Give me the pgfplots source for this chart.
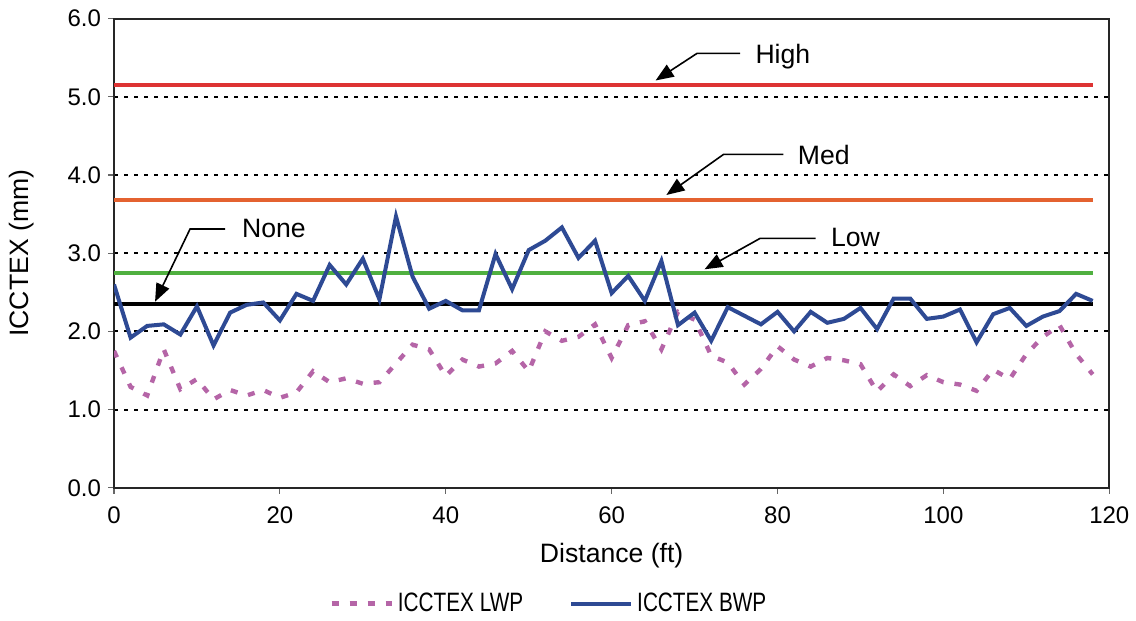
\documentclass[border=0pt]{standalone}
\usepackage{fontspec}
\setmainfont{Liberation Sans}
\newfontfamily\narrowfont{Liberation Sans}[FakeStretch=0.78]
\usepackage{pgfplots}
\pgfplotsset{compat=1.18}
\usetikzlibrary{arrows.meta}
\definecolor{bwp}{RGB}{46,74,148}
\definecolor{lwp}{RGB}{181,101,167}
\definecolor{highc}{RGB}{221,51,51}
\definecolor{medc}{RGB}{228,98,48}
\definecolor{lowc}{RGB}{80,176,64}

\pgfplotstableread{
x y
0 2.60
2 1.92
4 2.07
6 2.09
8 1.96
10 2.32
12 1.82
14 2.24
16 2.34
18 2.37
20 2.14
22 2.48
24 2.39
26 2.85
28 2.60
30 2.93
32 2.41
34 3.47
36 2.70
38 2.29
40 2.39
42 2.27
44 2.27
46 2.99
48 2.54
50 3.04
52 3.16
54 3.33
56 2.94
58 3.16
60 2.49
62 2.71
64 2.39
66 2.90
68 2.08
70 2.24
72 1.88
74 2.31
76 2.20
78 2.09
80 2.25
82 2.00
84 2.25
86 2.11
88 2.16
90 2.30
92 2.03
94 2.42
96 2.42
98 2.16
100 2.19
102 2.28
104 1.86
106 2.22
108 2.30
110 2.07
112 2.19
114 2.26
116 2.48
118 2.39
}\bwpdata

\pgfplotstableread{
x y
0 1.75
2 1.29
4 1.18
6 1.77
8 1.26
10 1.39
12 1.13
14 1.25
16 1.18
18 1.25
20 1.15
22 1.22
24 1.49
26 1.35
28 1.40
30 1.33
32 1.35
34 1.59
36 1.83
38 1.77
40 1.43
42 1.64
44 1.55
46 1.59
48 1.75
50 1.49
52 2.00
54 1.88
56 1.93
58 2.09
60 1.66
62 2.08
64 2.13
66 1.77
68 2.25
70 2.15
72 1.69
74 1.60
76 1.32
78 1.52
80 1.81
82 1.64
84 1.55
86 1.66
88 1.63
90 1.58
92 1.23
94 1.45
96 1.30
98 1.44
100 1.35
102 1.32
104 1.24
106 1.51
108 1.39
110 1.71
112 1.93
114 2.08
116 1.71
118 1.45
}\lwpdata

\begin{document}
\begin{tikzpicture}
\begin{axis}[
  name=ax,
  scale only axis,
  width=497.6pt, height=234.5pt,
  xmin=0, xmax=120, ymin=0, ymax=6,
  xtick={0,20,...,120}, ytick={0,1,...,6},
  scaled ticks=false,
  /pgf/number format/assume math mode=true,
  y tick label style={/pgf/number format/fixed, /pgf/number format/fixed zerofill, /pgf/number format/precision=1},
  tick label style={font=\fontsize{12}{14}\selectfont},
  x tick label style={yshift=-3pt},
  tick align=outside, major tick length=3pt,
  tick style={black!60, line width=0.6pt},
  xtick pos=left, ytick pos=left,
  ymajorgrids,
  grid style={black, line width=1pt, dash pattern=on 2pt off 3pt},
  axis line style={black!85, line width=1.1pt},
  xlabel={Distance (ft)},
  xlabel style={at={([yshift=-34pt]rel axis cs:0.5,0)}, anchor=center, font=\fontsize{13.3}{15}\selectfont},
  ylabel={ICCTEX (mm)},
  ylabel style={at={([xshift=-46pt]rel axis cs:0,0.5)}, anchor=center, font=\fontsize{13.3}{15}\selectfont},
  legend style={at={(rel axis cs:0.438,-0.247)}, anchor=center, draw=none, fill=none,
    font=\narrowfont\fontsize{13.3}{15}\selectfont, legend columns=2,
    /tikz/every even column/.append style={column sep=21pt}},
  legend cell align=left,
  legend image code/.code={\draw[#1] (0pt,0pt) -- (30pt,0pt);},
]
\addplot[highc, line width=1.8pt, forget plot] coordinates {(0,5.15) (118,5.15)};
\addplot[medc, line width=1.8pt, forget plot] coordinates {(0,3.68) (118,3.68)};
\addplot[lowc, line width=1.8pt, forget plot] coordinates {(0,2.75) (118,2.75)};
\addplot[black, line width=2pt, forget plot] coordinates {(0,2.35) (118,2.35)};
\addplot[lwp, line width=2.2pt, dash pattern=on 3.5pt off 5.5pt] table[x=x,y=y] {\lwpdata};
\addlegendentry{ICCTEX LWP}
\addplot[bwp, line width=2pt, line join=miter] table[x=x,y=y] {\bwpdata};
\addlegendentry{ICCTEX BWP}

\draw[line width=0.8pt, -{Triangle[length=9pt,width=7pt]}] (axis cs:75.5,5.557) -- (axis cs:70.3,5.557) -- (axis cs:65.3,5.21);
\node[anchor=base west, inner sep=0pt, font=\fontsize{13.3}{15}\selectfont] at (axis cs:77.3,5.43) {High};
\draw[line width=0.8pt, -{Triangle[length=9pt,width=7pt]}] (axis cs:80.7,4.265) -- (axis cs:73.5,4.265) -- (axis cs:66.6,3.745);
\node[anchor=base west, inner sep=0pt, font=\fontsize{13.3}{15}\selectfont] at (axis cs:82.4,4.13) {Med};
\draw[line width=0.8pt, -{Triangle[length=9pt,width=7pt]}] (axis cs:84.6,3.19) -- (axis cs:77.9,3.19) -- (axis cs:71.2,2.794);
\node[anchor=base west, inner sep=0pt, font=\fontsize{13.3}{15}\selectfont] at (axis cs:86.4,3.083) {Low};
\draw[line width=0.8pt, -{Triangle[length=9pt,width=7pt]}] (axis cs:13.4,3.31) -- (axis cs:9.17,3.31) -- (axis cs:4.95,2.38);
\node[anchor=base west, inner sep=0pt, font=\fontsize{13.3}{15}\selectfont] at (axis cs:15.4,3.203) {None};
\end{axis}
\pgfresetboundingbox
\path[use as bounding box] ([xshift=-57pt,yshift=-66.15pt]ax.south west) rectangle ([xshift=13.35pt,yshift=9.35pt]ax.north east);
\end{tikzpicture}
\end{document}
